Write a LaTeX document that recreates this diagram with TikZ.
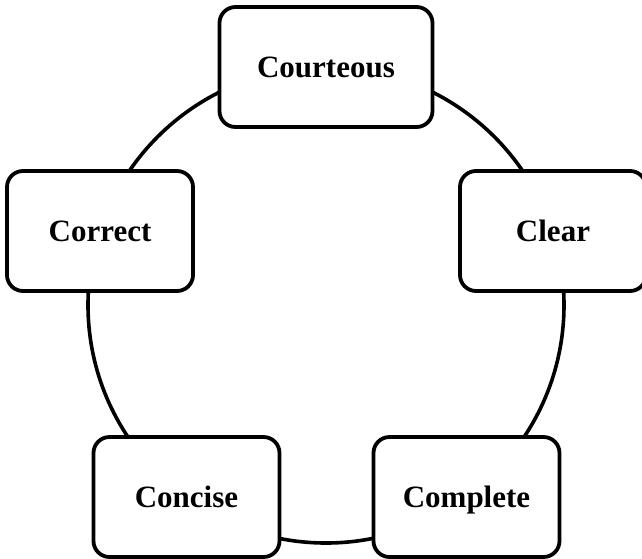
\documentclass[tikz,border=0pt]{standalone}
\usepackage{fontspec}
\setmainfont{Liberation Serif}
\begin{document}
\begin{tikzpicture}[x=1pt,y=-1pt,
  ringline/.style={draw=black,line width=3.6pt,circle,inner sep=0pt,minimum size=476pt},
  cbox/.style={draw=black,fill=white,line width=3.8pt,rounded corners=16pt,
    inner sep=0pt,minimum width=186pt,minimum height=120pt,
    text height=21pt,text depth=0pt,
    font=\fontsize{31}{31}\selectfont\bfseries}]
  \useasboundingbox (0,0) rectangle (642,558);
  % the cycle ring behind the boxes
  \node[ringline] (ring) at (326,305) {};
  % the five boxes
  \node[cbox,minimum width=213pt] (courteous) at (326,67) {Courteous};
  \node[cbox] (correct) at (100,231) {Correct};
  \node[cbox] (clear) at (553,231) {Clear};
  \node[cbox] (concise) at (186.5,497) {Concise};
  \node[cbox] (complete) at (466.5,497) {Complete};
\end{tikzpicture}
\end{document}
